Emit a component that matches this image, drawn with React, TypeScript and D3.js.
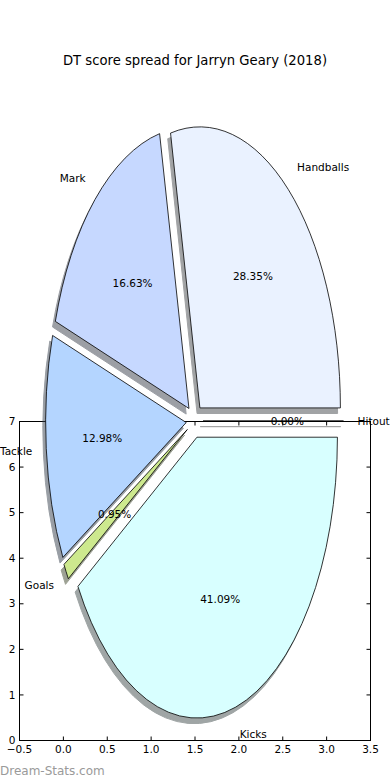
import { useEffect, useRef } from "react";
import * as d3 from "d3";

const labels = ["Hitout", "Handballs", "Mark", "Tackle", "Goals", "Kicks"];
const shares = [0.0, 28.35, 16.63, 12.98, 0.95, 41.09];
const colors = ["#ffffff", "#eaf2ff", "#c6d8ff", "#b4d5ff", "#cde98e", "#d8ffff"];
const xTicks = [-0.5, 0.0, 0.5, 1.0, 1.5, 2.0, 2.5, 3.0, 3.5];
const yTicks = [0, 1, 2, 3, 4, 5, 6, 7];

const W = 390;
const H = 780;
const FONT = "DejaVu Sans, sans-serif";

export default function App() {
  const ref = useRef<SVGSVGElement | null>(null);

  useEffect(() => {
    const svg = d3.select(ref.current);
    svg.selectAll("*").remove();

    // title
    svg.append("text")
      .attr("x", W / 2)
      .attr("y", 65)
      .attr("text-anchor", "middle")
      .attr("font-family", FONT)
      .attr("font-size", "13.2px")
      .text("DT score spread for Jarryn Geary (2018)");

    // second axes sitting under the pie
    const x = d3.scaleLinear().domain([-0.5, 3.5]).range([19.5, 370.5]);
    const y = d3.scaleLinear().domain([0, 7]).range([740.5, 421.5]);
    const ax = svg.append("g");
    const tick = 4;

    xTicks.forEach((t) => {
      ax.append("line").attr("x1", x(t)).attr("x2", x(t)).attr("y1", y(0)).attr("y2", y(0) - tick).attr("stroke", "#000");
      ax.append("line").attr("x1", x(t)).attr("x2", x(t)).attr("y1", y(7)).attr("y2", y(7) + tick).attr("stroke", "#000");
      ax.append("text")
        .attr("x", x(t))
        .attr("y", 753)
        .attr("text-anchor", "middle")
        .attr("font-family", FONT)
        .attr("font-size", "10.5px")
        .text(d3.format(".1f")(t).replace("-", "\u2212"));
    });
    yTicks.forEach((t) => {
      ax.append("line").attr("x1", x(-0.5)).attr("x2", x(-0.5) + tick).attr("y1", y(t)).attr("y2", y(t)).attr("stroke", "#000");
      ax.append("line").attr("x1", x(3.5)).attr("x2", x(3.5) - tick).attr("y1", y(t)).attr("y2", y(t)).attr("stroke", "#000");
      ax.append("text")
        .attr("x", 15.5)
        .attr("y", y(t))
        .attr("dy", "0.35em")
        .attr("text-anchor", "end")
        .attr("font-family", FONT)
        .attr("font-size", "10.5px")
        .text(String(t));
    });
    ax.append("rect")
      .attr("x", x(-0.5))
      .attr("y", y(7))
      .attr("width", x(3.5) - x(-0.5))
      .attr("height", y(0) - y(7))
      .attr("fill", "none")
      .attr("stroke", "#000");

    // pie: unit circle stretched into an ellipse like the old matplotlib output
    const cx = 194.6;
    const cy = 421;
    const rx = 140.5;
    const ry = 281;
    const explode = 0.06;
    const shadowOff = 0.02;

    const pie = d3.pie<number>().sort(null).startAngle(0).endAngle(2 * Math.PI);
    const arcs = pie(shares);
    const arc = d3.arc<d3.PieArcDatum<number>>()
      .innerRadius(0)
      .outerRadius(1)
      .startAngle((d) => Math.PI / 2 - d.endAngle)
      .endAngle((d) => Math.PI / 2 - d.startAngle);

    const g = svg.append("g").attr("transform", `translate(${cx},${cy}) scale(${rx},${ry})`);
    const mid = (d: d3.PieArcDatum<number>) => (d.startAngle + d.endAngle) / 2;
    const off = (d: d3.PieArcDatum<number>) => [explode * Math.cos(mid(d)), -explode * Math.sin(mid(d))];

    const shade = (c: string) => {
      const rgb = d3.rgb(c);
      return d3.rgb(rgb.r * 0.3, rgb.g * 0.3, rgb.b * 0.3).formatHex();
    };

    g.selectAll("path.shadow")
      .data(arcs)
      .enter()
      .append("path")
      .attr("class", "shadow")
      .attr("d", (d) => arc(d) as string)
      .attr("transform", (d) => `translate(${off(d)[0] - shadowOff},${off(d)[1] + shadowOff})`)
      .attr("fill", (d, i) => shade(colors[i]))
      .attr("stroke", (d, i) => shade(colors[i]))
      .attr("stroke-width", 1)
      .attr("vector-effect", "non-scaling-stroke")
      .attr("opacity", 0.5);

    g.selectAll("path.wedge")
      .data(arcs)
      .enter()
      .append("path")
      .attr("class", "wedge")
      .attr("d", (d) => arc(d) as string)
      .attr("transform", (d) => `translate(${off(d)[0]},${off(d)[1]})`)
      .attr("fill", (d, i) => colors[i])
      .attr("stroke", "#000")
      .attr("stroke-width", 0.8)
      .attr("stroke-linejoin", "miter")
      .attr("vector-effect", "non-scaling-stroke");

    // labels and percentages
    arcs.forEach((d, i) => {
      const m = mid(d);
      const [ox, oy] = off(d);
      const lx = cx + rx * (ox + 1.1 * Math.cos(m));
      const ly = cy + ry * (oy - 1.1 * Math.sin(m));
      svg.append("text")
        .attr("x", lx)
        .attr("y", ly)
        .attr("dy", "0.35em")
        .attr("text-anchor", Math.cos(m) > 0 ? "start" : "end")
        .attr("font-family", FONT)
        .attr("font-size", "10.5px")
        .text(labels[i]);

      const px = cx + rx * (ox + 0.6 * Math.cos(m));
      const py = cy + ry * (oy - 0.6 * Math.sin(m));
      svg.append("text")
        .attr("x", px)
        .attr("y", py)
        .attr("dy", "0.35em")
        .attr("text-anchor", "middle")
        .attr("font-family", FONT)
        .attr("font-size", "10.5px")
        .text(d3.format(".2f")(shares[i]) + "%");
    });

    svg.append("text")
      .attr("x", 0)
      .attr("y", 775)
      .attr("font-family", FONT)
      .attr("font-size", "12px")
      .attr("fill", "#9a9a9a")
      .text("Dream-Stats.com");
  }, []);

  return (
    <svg
      ref={ref}
      width={W}
      height={H}
      style={{ position: "absolute", left: 0, top: 0, background: "#fff" }}
    ></svg>
  );
}
